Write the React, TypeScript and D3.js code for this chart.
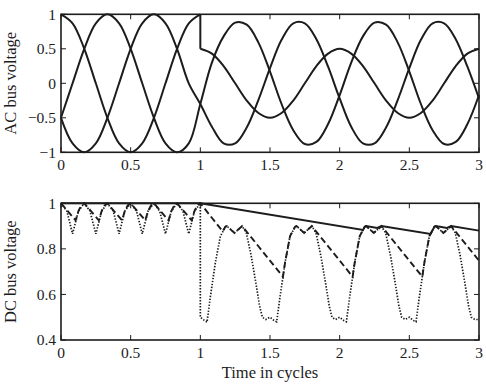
import React from "react";
import * as d3 from "d3";

const W = 486;
const H = 386;

// tick values
const xTicks = [0, 0.5, 1, 1.5, 2, 2.5, 3];
const acTicks = [-1, -0.5, 0, 0.5, 1];
const dcTicks = [0.4, 0.6, 0.8, 1];

const tPre = [0, 0.083, 0.167, 0.25, 0.333, 0.417, 0.5, 0.583, 0.667, 0.75, 0.833, 0.917, 1];
const tPost = [1, 1.083, 1.167, 1.25, 1.333, 1.417, 1.5, 1.583, 1.667, 1.75, 1.833, 1.917, 2,
  2.083, 2.167, 2.25, 2.333, 2.417, 2.5, 2.583, 2.667, 2.75, 2.833, 2.917, 3];

const phaseAPre = [1, 0.87, 0.5, 0, -0.5, -0.87, -1, -0.87, -0.5, 0, 0.5, 0.87, 1];
const phaseAPost = [0.5, 0.43, 0.25, 0, -0.25, -0.43, -0.5, -0.43, -0.25, 0, 0.25, 0.43, 0.5,
  0.43, 0.25, 0, -0.25, -0.43, -0.5, -0.43, -0.25, 0, 0.25, 0.43, 0.5];
const phaseBPre = [-0.5, 0, 0.5, 0.87, 1, 0.87, 0.5, 0, -0.5, -0.87, -1, -0.87, -0.3];
const phaseBPost = [-0.3, 0.3, 0.68, 0.88, 0.85, 0.59, 0.17, -0.3, -0.68, -0.88, -0.85, -0.59, -0.17,
  0.3, 0.68, 0.88, 0.85, 0.59, 0.17, -0.3, -0.68, -0.88, -0.85, -0.59, -0.17];
const phaseCPre = [-0.5, -0.87, -1, -0.87, -0.5, 0, 0.5, 0.87, 1, 0.87, 0.5, 0, -0.3];
const phaseCPost = [-0.3, -0.63, -0.87, -0.87, -0.64, -0.24, 0.22, 0.63, 0.87, 0.87, 0.64, 0.24, -0.22,
  -0.63, -0.87, -0.87, -0.64, -0.24, 0.22, 0.63, 0.87, 0.87, 0.64, 0.24, -0.22];

// DC bus voltage, [time, value] points
const dcSolid: [number, number][] = [
  [0, 1], [1, 1], [2.168, 0.883], [2.18, 0.897], [2.19, 0.9], [2.27, 0.892], [2.3, 0.9],
  [2.652, 0.865], [2.68, 0.897], [2.69, 0.9], [2.77, 0.892], [2.8, 0.9], [3, 0.88],
];

const dcDashed: [number, number][] = [
  [0, 1], [0.105, 0.925], [0.125, 0.966], [0.146, 0.991], [0.167, 1],
  [0.272, 0.925], [0.292, 0.966], [0.313, 0.991], [0.333, 1],
  [0.438, 0.925], [0.458, 0.966], [0.479, 0.991], [0.5, 1],
  [0.605, 0.925], [0.625, 0.966], [0.646, 0.991], [0.667, 1],
  [0.772, 0.925], [0.792, 0.966], [0.813, 0.991], [0.833, 1],
  [0.938, 0.925], [0.958, 0.966], [0.979, 0.991], [1, 1],
  [1.16, 0.877], [1.18, 0.897], [1.19, 0.9], [1.245, 0.87], [1.3, 0.9],
  [1.593, 0.678], [1.608, 0.74], [1.644, 0.856], [1.68, 0.897], [1.69, 0.9], [1.745, 0.87], [1.8, 0.9],
  [2.093, 0.678], [2.108, 0.74], [2.144, 0.856], [2.18, 0.897], [2.19, 0.9], [2.245, 0.87], [2.3, 0.9],
  [2.593, 0.678], [2.608, 0.74], [2.644, 0.856], [2.68, 0.897], [2.69, 0.9], [2.745, 0.87], [2.8, 0.9],
  [3, 0.748],
];

const dcDotted: [number, number][] = [
  [0, 1], [0.042, 0.966], [0.083, 0.866], [0.125, 0.966], [0.167, 1], [0.208, 0.966], [0.25, 0.866],
  [0.292, 0.966], [0.333, 1], [0.375, 0.966], [0.417, 0.866], [0.458, 0.966], [0.5, 1], [0.542, 0.966],
  [0.583, 0.866], [0.625, 0.966], [0.667, 1], [0.708, 0.966], [0.75, 0.866], [0.792, 0.966], [0.833, 1],
  [0.875, 0.966], [0.917, 0.866], [0.958, 0.966], [1, 1],
  [1, 0.5], [1.02, 0.49], [1.048, 0.478], [1.072, 0.59], [1.108, 0.74], [1.144, 0.856], [1.18, 0.897],
  [1.19, 0.9], [1.245, 0.87], [1.3, 0.9], [1.33, 0.87], [1.365, 0.77], [1.4, 0.645], [1.425, 0.55],
  [1.445, 0.5], [1.47, 0.49], [1.5, 0.5], [1.53, 0.485], [1.548, 0.48], [1.572, 0.59], [1.608, 0.74],
  [1.644, 0.856], [1.68, 0.897], [1.69, 0.9], [1.745, 0.87], [1.8, 0.9], [1.83, 0.87], [1.865, 0.77],
  [1.9, 0.645], [1.925, 0.55], [1.945, 0.5], [1.97, 0.49], [2, 0.5], [2.03, 0.485], [2.048, 0.48],
  [2.072, 0.59], [2.108, 0.74], [2.144, 0.856], [2.18, 0.897], [2.19, 0.9], [2.245, 0.87], [2.3, 0.9],
  [2.33, 0.87], [2.365, 0.77], [2.4, 0.645], [2.425, 0.55], [2.445, 0.5], [2.47, 0.49], [2.5, 0.5],
  [2.53, 0.485], [2.548, 0.48], [2.572, 0.59], [2.608, 0.74], [2.644, 0.856], [2.68, 0.897], [2.69, 0.9],
  [2.745, 0.87], [2.8, 0.9], [2.83, 0.87], [2.865, 0.77], [2.9, 0.645], [2.925, 0.55], [2.945, 0.5],
  [2.97, 0.49], [3, 0.49],
];

const FONT = "'Liberation Serif', 'DejaVu Serif', serif";
const INK = "#1c1c1c";
const fmt = d3.format("");

const zip = (t: number[], v: number[]) => t.map((d, i) => [d, v[i]] as [number, number]);

type Scale = d3.ScaleLinear<number, number>;

const Panel = ({ x, y, yTicks, title }: { x: Scale; y: Scale; yTicks: number[]; title: string }) => {
  const [x0, x1] = x.range();
  const [y0, y1] = y.range(); // y0 bottom, y1 top
  const tl = 5;
  return (
    <g>
      <rect x={x0} y={y1} width={x1 - x0} height={y0 - y1} fill="none" stroke={INK} strokeWidth={1.6} />
      {xTicks.map((t) => (
        <g key={"x" + t}>
          <line x1={x(t)} x2={x(t)} y1={y0} y2={y0 - tl} stroke={INK} strokeWidth={1} />
          <line x1={x(t)} x2={x(t)} y1={y1} y2={y1 + tl} stroke={INK} strokeWidth={1} />
          <text x={x(t)} y={y0 + 17.5} textAnchor="middle" fontSize={15.5} fontFamily={FONT} fill={INK}>
            {fmt(t)}
          </text>
        </g>
      ))}
      {yTicks.map((t) => (
        <g key={"y" + t}>
          <line x1={x0} x2={x0 + tl} y1={y(t)} y2={y(t)} stroke={INK} strokeWidth={1} />
          <line x1={x1} x2={x1 - tl} y1={y(t)} y2={y(t)} stroke={INK} strokeWidth={1} />
          <text x={x0 - 5} y={y(t)} dy="0.35em" textAnchor="end" fontSize={15.5} fontFamily={FONT} fill={INK}>
            {fmt(t)}
          </text>
        </g>
      ))}
      <text
        transform={`translate(16,${(y0 + y1) / 2}) rotate(-90)`}
        textAnchor="middle"
        fontSize={16.5}
        fontFamily={FONT}
        fill={INK}
      >
        {title}
      </text>
    </g>
  );
};

export default function App() {
  const x = d3.scaleLinear().domain([0, 3]).range([61, 479]);
  const yAC = d3.scaleLinear().domain([-1, 1]).range([152.3, 14.3]);
  const yDC = d3.scaleLinear().domain([0.4, 1]).range([340, 203.3]);

  const acLine = d3
    .line<[number, number]>()
    .x((d) => x(d[0]))
    .y((d) => yAC(d[1]))
    .curve(d3.curveCatmullRom);
  const acJump = d3
    .line<[number, number]>()
    .x((d) => x(d[0]))
    .y((d) => yAC(d[1]));
  const dcLine = d3
    .line<[number, number]>()
    .x((d) => x(d[0]))
    .y((d) => yDC(d[1]));

  const phaseB = [...zip(tPre, phaseBPre), ...zip(tPost, phaseBPost).slice(1)];
  const phaseC = [...zip(tPre, phaseCPre), ...zip(tPost, phaseCPost).slice(1)];
  const acPaths = [
    acLine(zip(tPre, phaseAPre)),
    acJump([[1, phaseAPre[phaseAPre.length - 1]], [1, phaseAPost[0]]]),
    acLine(zip(tPost, phaseAPost)),
    acLine(phaseB),
    acLine(phaseC),
  ];

  return (
    <svg width={W} height={H} style={{ position: "absolute", left: 0, top: 0, background: "#fff" }}>
      <rect width={W} height={H} fill="#fff" />
      <Panel x={x} y={yAC} yTicks={acTicks} title="AC bus voltage" />
      {acPaths.map((p, i) => (
        <path key={i} d={p ?? ""} fill="none" stroke={INK} strokeWidth={2} strokeLinejoin="round" />
      ))}

      <Panel x={x} y={yDC} yTicks={dcTicks} title="DC bus voltage" />
      <path d={dcLine(dcDotted) ?? ""} fill="none" stroke={INK} strokeWidth={1.7} strokeDasharray="1.4,1.6" />
      <path d={dcLine(dcDashed) ?? ""} fill="none" stroke={INK} strokeWidth={1.9} strokeDasharray="6.5,3.5" />
      <path d={dcLine(dcSolid) ?? ""} fill="none" stroke={INK} strokeWidth={1.9} />

      <text x={270} y={378} textAnchor="middle" fontSize={16.5} fontFamily={FONT} fill={INK}>
        Time in cycles
      </text>
    </svg>
  );
}
